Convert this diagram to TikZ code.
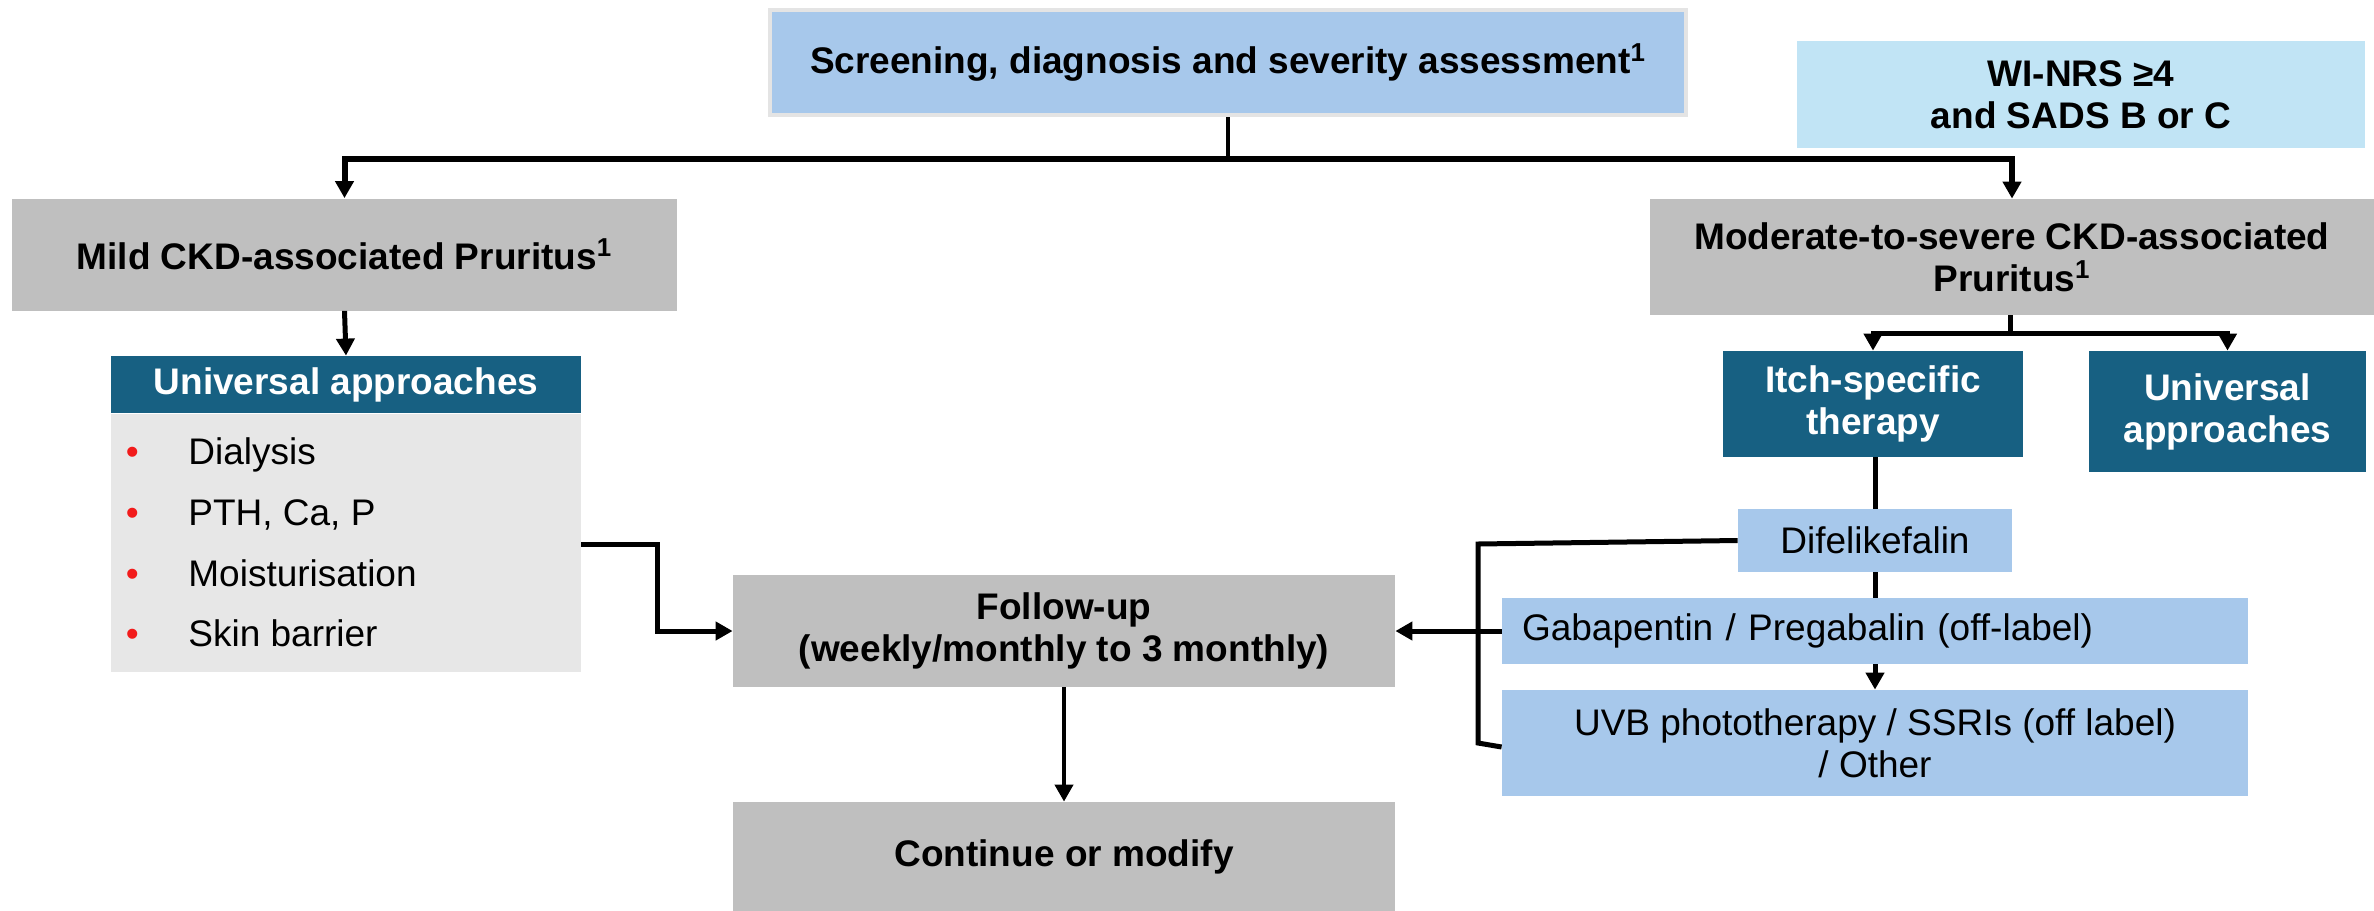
\documentclass[tikz,border=0pt]{standalone}
\usepackage{fontspec}
\setmainfont{Liberation Sans}
\usetikzlibrary{arrows.meta}

\definecolor{skyfill}{HTML}{A7C8EB}
\definecolor{palecyan}{HTML}{C1E4F5}
\definecolor{midgray}{HTML}{BFBFBF}
\definecolor{deepteal}{HTML}{176082}
\definecolor{listgray}{HTML}{E7E7E7}
\definecolor{framegray}{HTML}{E4E4E4}
\definecolor{bulletred}{HTML}{F21B1B}

\newcommand{\bodyfont}{\fontsize{18.5}{21}\selectfont}
\newcommand{\redbullet}{\makebox[31.25pt][l]{\textcolor{bulletred}{•}}}

\begin{document}
\begin{tikzpicture}[x=0.5pt,y=-0.5pt,
  box/.style={rectangle, inner sep=0pt, align=center, font=\bodyfont\bfseries},
  greybox/.style={box, fill=midgray},
  darkbox/.style={box, fill=deepteal, text=white},
  drugbox/.style={box, fill=skyfill, font=\bodyfont},
  listitem/.style={anchor=base west, inner sep=0pt, font=\bodyfont},
  link/.style={line width=2.5pt},
  thinlink/.style={line width=2pt},
  arr/.style={-{Triangle[width=9pt,length=8.5pt]}},
]
\useasboundingbox (0,0) rectangle (2374,911);

% top-level assessment and criteria
\node[box, fill=skyfill, draw=framegray, line width=2pt,
      minimum width=458pt, minimum height=52.5pt] (top) at (1228,62.5)
  {Screening, diagnosis and severity assessment\textsuperscript{1}};
\node[box, fill=palecyan, minimum width=284pt, minimum height=53.5pt] (crit) at (2081,94.5)
  {WI-NRS ≥4\\and SADS B or C};

% severity branches
\node[greybox, minimum width=332.5pt, minimum height=56pt] (mild) at (344.5,254.5)
  {Mild CKD-associated Pruritus\textsuperscript{1}};
\node[greybox, minimum width=362pt, minimum height=58pt] (mod) at (2012,257)
  {Moderate-to-severe CKD-associated\\Pruritus\textsuperscript{1}};

% mild branch: universal approaches list
\node[darkbox, minimum width=235pt, minimum height=28.5pt] (uhead) at (346,384.5)
  {Universal approaches};
\node[rectangle, fill=listgray, inner sep=0pt, minimum width=235pt, minimum height=129pt,
      anchor=north] (ulist) at (uhead.south) {};
\node[listitem] (li1) at (125.5,464) {\redbullet Dialysis};
\node[listitem] (li2) at (125.5,525) {\redbullet PTH, Ca, P};
\node[listitem] (li3) at (125.5,586) {\redbullet Moisturisation};
\node[listitem] (li4) at (125.5,646) {\redbullet Skin barrier};

% follow-up and outcome
\node[greybox, minimum width=331pt, minimum height=56pt] (follow) at (1064,631)
  {Follow-up\\(weekly/monthly to 3 monthly)};
\node[greybox, minimum width=331pt, minimum height=54.5pt] (cont) at (1064,856.5)
  {Continue or modify};

% moderate-to-severe branch
\node[darkbox, minimum width=150pt, minimum height=53pt] (itch) at (1873,404)
  {Itch-specific\\therapy};
\node[darkbox, minimum width=138.5pt, minimum height=60.5pt] (uright) at (2227.5,411.5)
  {Universal\\approaches};
\node[drugbox, minimum width=137pt, minimum height=31.5pt] (dife) at (1875,540.5)
  {Difelikefalin};
\node[drugbox, text width=353pt, inner xsep=10pt, align=left, minimum height=33pt] (gaba) at (1875,631)
  {Gabapentin / Pregabalin (off-label)};
\node[drugbox, minimum width=373pt, minimum height=53pt] (uvb) at (1875,743)
  {UVB phototherapy / SSRIs (off label)\\/ Other};

% connectors from the assessment
\coordinate (split) at (1228,159);
\draw[thinlink] (top.south) -- (split);
\draw[line width=3pt, arr] (split) -| (mild.north);
\draw[line width=3pt, arr] (split) -| (mod.north);

% mild branch connectors
\draw[link, arr] (mild.south) -- (uhead.north);
\coordinate (mildbend) at (657,544);
\draw[link, arr] (ulist.east |- mildbend) -- (mildbend) |- (follow.west);

% moderate branch connectors
\coordinate (split2) at (2010,333);
\draw[link] (mod.south -| split2) -- (split2);
\draw[link, arr] (split2) -| (itch.north);
\draw[link, arr] (split2) -| (uright.north);
\draw[link] (itch.south -| dife.north) -- (dife.north);
\draw[link] (dife.south) -- (gaba.north -| dife.south);
\draw[link, arr] (gaba.south -| dife.south) -- (uvb.north -| dife.south);

% bracket collecting the itch-specific options
\coordinate (bktop) at (1478,544);
\coordinate (bkbot) at (1478,743);
\draw[link] (dife.west) -- (bktop) -- (bkbot) -- ([yshift=-2pt]uvb.west);
\draw[link, arr] (gaba.west) -- (follow.east);

% outcome
\draw[thinlink, arr] (follow.south) -- (cont.north);
\end{tikzpicture}
\end{document}
